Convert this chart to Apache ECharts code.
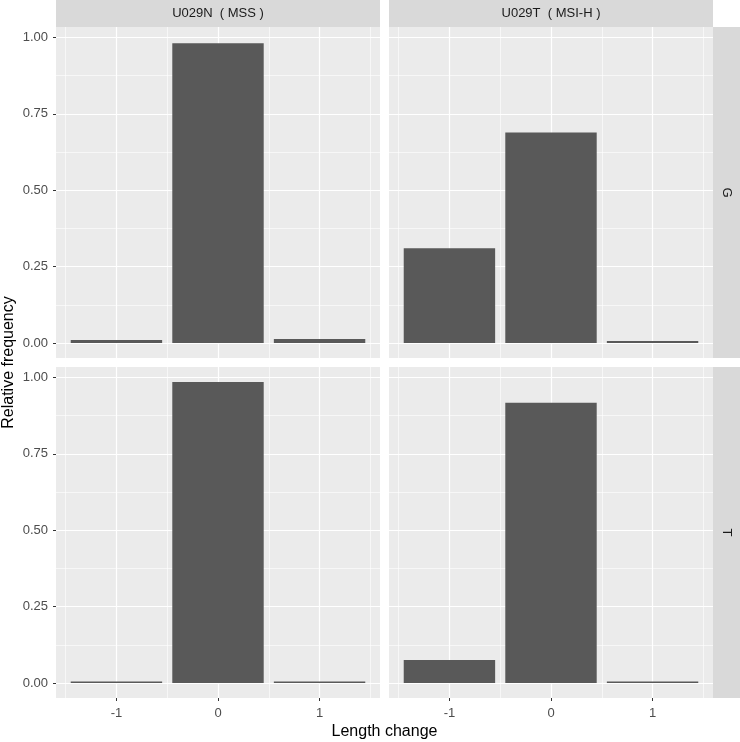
<!DOCTYPE html>
<html>
<head>
<meta charset="utf-8">
<script src="https://cdn.jsdelivr.net/npm/echarts@6/dist/echarts.min.js"></script>
<style>html,body{margin:0;padding:0;background:#fff}#c{width:740px;height:742px}</style>
</head>
<body>
<div id="c"></div>
<script>
// ---- data ----
const categories = [-1, 0, 1];
const colLabels = ['U029N  ( MSS )', 'U029T  ( MSI-H )'];
const rowLabels = ['G', 'T'];
const G_U029N = [0.010, 0.981, 0.013];
const G_U029T = [0.310, 0.689, 0.006];
const T_U029N = [0.005, 0.985, 0.005];
const T_U029T = [0.075, 0.917, 0.005];
const yTicks = [0, 0.25, 0.5, 0.75, 1.0];
const yMinor = [0.125, 0.375, 0.625, 0.875];
const xTicks = [-1, 0, 1];
const xMinor = [-1.5, -0.5, 0.5, 1.5];

const panels = [
  {row: 0, col: 0, vals: G_U029N},
  {row: 0, col: 1, vals: G_U029T},
  {row: 1, col: 0, vals: T_U029N},
  {row: 1, col: 1, vals: T_U029T}
];

// ---- layout ----
const colLeft = [56, 389], panelW = 324;
const rowTop = [27, 367], panelH = 331;
const stripH = 27, stripW = 27;
const FONT = '"Liberation Sans", Arial, sans-serif';

// scales like ggplot (5% expansion, shared across facets)
const allVals = [].concat(G_U029N, G_U029T, T_U029N, T_U029T);
const yMaxData = Math.max.apply(null, allVals);
const yMin = -0.05 * yMaxData, yMax = 1.05 * yMaxData;
const barW = 0.9;
const xLo = Math.min.apply(null, categories) - barW / 2, xHi = Math.max.apply(null, categories) + barW / 2;
const xPad = 0.05 * (xHi - xLo);
const xMin = xLo - xPad, xMax = xHi + xPad;
const barPx = barW * panelW / (xMax - xMin);

const grids = [], xAxes = [], yAxes = [], series = [];
panels.forEach((p, i) => {
  grids.push({left: colLeft[p.col], top: rowTop[p.row], width: panelW, height: panelH,
    show: true, backgroundColor: '#EBEBEB', borderWidth: 0, containLabel: false, outerBoundsMode: 'none'});
  const showX = p.row === 1, showY = p.col === 0;
  // major x
  xAxes.push({type: 'value', gridIndex: i, min: xMin, max: xMax, position: 'bottom',
    axisLine: {show: false, onZero: false},
    axisTick: {show: showX, length: 3, lineStyle: {color: '#333333', width: 1}, customValues: xTicks},
    axisLabel: {show: showX, customValues: xTicks, color: '#4D4D4D', fontSize: 13, fontFamily: FONT, margin: 9,
      formatter: v => String(Math.round(v))},
    splitLine: {show: true, lineStyle: {color: '#FFFFFF', width: 1.2}}
  });
  // minor x
  xAxes.push({type: 'value', gridIndex: i, min: xMin, max: xMax, position: 'bottom',
    axisLine: {show: false, onZero: false},
    axisTick: {show: false, customValues: xMinor},
    axisLabel: {show: false, customValues: xMinor},
    splitLine: {show: true, lineStyle: {color: '#FFFFFF', width: 0.6}}
  });
  // major y
  yAxes.push({type: 'value', gridIndex: i, min: yMin, max: yMax, position: 'left',
    axisLine: {show: false, onZero: false},
    axisTick: {show: showY, length: 3, lineStyle: {color: '#333333', width: 1}, customValues: yTicks},
    axisLabel: {show: showY, customValues: yTicks, color: '#4D4D4D', fontSize: 13, fontFamily: FONT, margin: 8,
      formatter: v => v.toFixed(2)},
    splitLine: {show: true, lineStyle: {color: '#FFFFFF', width: 1.2}}
  });
  // minor y
  yAxes.push({type: 'value', gridIndex: i, min: yMin, max: yMax, position: 'left',
    axisLine: {show: false, onZero: false},
    axisTick: {show: false, customValues: yMinor},
    axisLabel: {show: false, customValues: yMinor},
    splitLine: {show: true, lineStyle: {color: '#FFFFFF', width: 0.6}}
  });
  series.push({type: 'bar', xAxisIndex: 2 * i, yAxisIndex: 2 * i,
    data: categories.map((c, k) => [c, p.vals[k]]),
    barWidth: barPx, itemStyle: {color: '#595959'}, silent: true, animation: false});
});

const graphic = [];
colLeft.forEach((x, c) => {
  graphic.push({type: 'rect', left: x, top: 0, shape: {width: panelW, height: stripH}, style: {fill: '#D9D9D9'}, silent: true});
  graphic.push({type: 'text', x: x + panelW / 2, y: stripH / 2, style: {text: colLabels[c], fill: '#1A1A1A', font: '13px ' + FONT, textAlign: 'center', textVerticalAlign: 'middle'}, silent: true});
});
rowTop.forEach((y, r) => {
  const sx = colLeft[1] + panelW;
  graphic.push({type: 'rect', left: sx, top: y, shape: {width: stripW, height: panelH}, style: {fill: '#D9D9D9'}, silent: true});
  graphic.push({type: 'text', x: sx + stripW / 2, y: y + panelH / 2, rotation: -Math.PI / 2, style: {text: rowLabels[r], fill: '#1A1A1A', font: '13px ' + FONT, textAlign: 'center', textVerticalAlign: 'middle'}, silent: true});
});
graphic.push({type: 'text', x: 9, y: (rowTop[0] + rowTop[1] + panelH) / 2, rotation: Math.PI / 2,
  style: {text: 'Relative frequency', fill: '#000000', font: '16px ' + FONT, textAlign: 'center', textVerticalAlign: 'middle'}, silent: true});
graphic.push({type: 'text', x: (colLeft[0] + colLeft[1] + panelW) / 2, y: 732,
  style: {text: 'Length change', fill: '#000000', font: '16px ' + FONT, textAlign: 'center', textVerticalAlign: 'middle'}, silent: true});

const chart = echarts.init(document.getElementById('c'), null, {renderer: 'canvas'});
chart.setOption({animation: false, backgroundColor: '#FFFFFF', grid: grids, xAxis: xAxes, yAxis: yAxes, series: series, graphic: graphic});
</script>
</body>
</html>
